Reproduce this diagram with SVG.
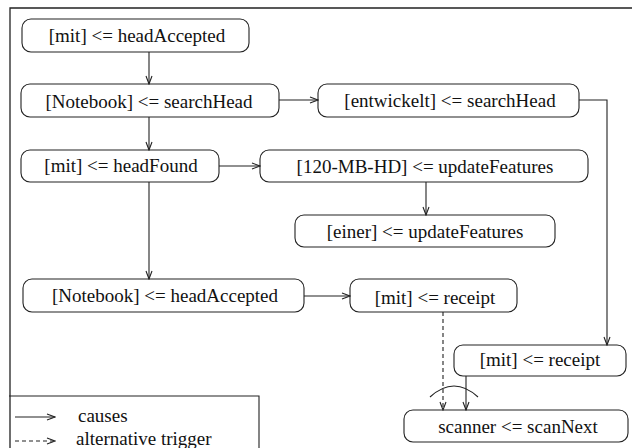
<svg xmlns="http://www.w3.org/2000/svg" width="632" height="448" viewBox="0 0 632 448">
<defs>
<marker id="ah" markerWidth="10" markerHeight="8" refX="9" refY="4" orient="auto" markerUnits="userSpaceOnUse">
<path d="M1,1 L9,4 L1,7" fill="none" stroke="#222" stroke-width="1.1"/>
</marker>
</defs>
<rect width="632" height="448" fill="#fff"/>
<path d="M10,460 L10,8 L640,8" fill="none" stroke="#222" stroke-width="1.3"/>
<g font-size="19" fill="#111" text-anchor="middle">
<g id="n1"><rect fill="#fff" stroke="#222" stroke-width="1.1" x="22" y="19" width="227" height="33" rx="9"/><text font-family="Liberation Serif" x="137" y="42">[mit] &lt;= headAccepted</text></g>
<g id="n2"><rect fill="#fff" stroke="#222" stroke-width="1.1" x="21" y="84" width="258" height="33" rx="9"/><text font-family="Liberation Serif" x="149" y="108">[Notebook] &lt;= searchHead</text></g>
<g id="n3"><rect fill="#fff" stroke="#222" stroke-width="1.1" x="318" y="84" width="261" height="33" rx="9"/><text font-family="Liberation Serif" x="450" y="107">[entwickelt] &lt;= searchHead</text></g>
<g id="n4"><rect fill="#fff" stroke="#222" stroke-width="1.1" x="21" y="150" width="198" height="32" rx="9"/><text font-family="Liberation Serif" x="121" y="172">[mit] &lt;= headFound</text></g>
<g id="n5"><rect fill="#fff" stroke="#222" stroke-width="1.1" x="260" y="150" width="328" height="32" rx="9"/><text font-family="Liberation Serif" x="425" y="173">[120-MB-HD] &lt;= updateFeatures</text></g>
<g id="n6"><rect fill="#fff" stroke="#222" stroke-width="1.1" x="295" y="215" width="260" height="32" rx="9"/><text font-family="Liberation Serif" x="425" y="238">[einer] &lt;= updateFeatures</text></g>
<g id="n7"><rect fill="#fff" stroke="#222" stroke-width="1.1" x="23" y="279" width="281" height="33" rx="9"/><text font-family="Liberation Serif" x="165" y="302">[Notebook] &lt;= headAccepted</text></g>
<g id="n8"><rect fill="#fff" stroke="#222" stroke-width="1.1" x="350" y="279" width="167" height="33" rx="9"/><text font-family="Liberation Serif" x="435" y="304">[mit] &lt;= receipt</text></g>
<g id="n9"><rect fill="#fff" stroke="#222" stroke-width="1.1" x="454" y="345" width="172" height="31" rx="9"/><text font-family="Liberation Serif" x="540" y="366">[mit] &lt;= receipt</text></g>
<g id="n10"><rect fill="#fff" stroke="#222" stroke-width="1.1" x="404" y="410" width="224" height="32" rx="9"/><text font-family="Liberation Serif" x="518" y="433">scanner &lt;= scanNext</text></g>
</g>
<g id="connectors" fill="none" stroke="#222" stroke-width="1.1">
<path d="M149,52 L149,84" marker-end="url(#ah)"/>
<path d="M149,117 L149,150" marker-end="url(#ah)"/>
<path d="M279,100 L318,100" marker-end="url(#ah)"/>
<path d="M219,166 L260,166" marker-end="url(#ah)"/>
<path d="M149,182 L149,279" marker-end="url(#ah)"/>
<path d="M426,182 L426,215" marker-end="url(#ah)"/>
<path d="M304,296 L350,296" marker-end="url(#ah)"/>
<path d="M579,100 L607,100 L607,345" marker-end="url(#ah)"/>
<path d="M443,312 L443,410" stroke-dasharray="4,3" marker-end="url(#ah)"/>
<path d="M466,376 L466,410" marker-end="url(#ah)"/>
<path d="M430,397 Q454,375 478,397"/>
</g>
<g id="legend" font-size="19" fill="#111">
<path d="M9,396 L259,396 L259,460" fill="none" stroke="#222" stroke-width="1.1"/>
<path d="M15,417 L55,417" fill="none" stroke="#222" stroke-width="1.1" marker-end="url(#ah)"/>
<text font-family="Liberation Serif" x="78" y="422">causes</text>
<path d="M15,441 L55,441" fill="none" stroke="#222" stroke-width="1.1" stroke-dasharray="4,3" marker-end="url(#ah)"/>
<text font-family="Liberation Serif" x="76" y="445">alternative trigger</text>
</g>
</svg>
